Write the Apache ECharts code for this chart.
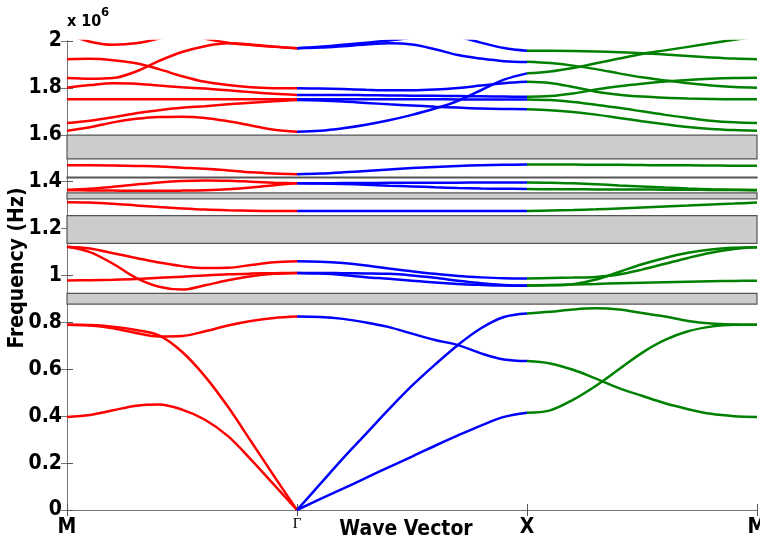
<!DOCTYPE html>
<html><head><meta charset="utf-8">
<script src="https://cdn.jsdelivr.net/npm/echarts@6/dist/echarts.min.js"></script>
<style>html,body{margin:0;padding:0;background:#fff}#c{width:760px;height:543px}</style>
</head><body><div id="c"></div>
<script>
// ---- axis labels ----
const xTickLabels = ['M', 'Γ', 'X', 'M'];
const kStep = [0, 0.1, 0.2, 0.3, 0.4, 0.5, 0.6, 0.7, 0.8, 0.9, 1.0];

// ---- band gaps (MHz) ----
const gapLow  = [0.878, 0.924];
const gapMid  = [1.137, 1.255];
const gapMid2 = [1.327, 1.352];
const gapThin = [1.416, 1.420];
const gapHigh = [1.497, 1.599];

// ---- M -> Γ (red) , values at kStep ----
const mgA  = [0.397, 0.405, 0.425, 0.445, 0.450, 0.428, 0.385, 0.315, 0.215, 0.108, 0];
const mgB  = [0.790, 0.789, 0.782, 0.768, 0.745, 0.675, 0.570, 0.440, 0.293, 0.145, 0];
const mgC  = [0.790, 0.787, 0.775, 0.755, 0.740, 0.742, 0.762, 0.787, 0.806, 0.819, 0.825];
const mgJ  = [1.123, 1.115, 1.095, 1.075, 1.055, 1.040, 1.032, 1.033, 1.045, 1.056, 1.061];
const mgK  = [1.123, 1.100, 1.050, 0.990, 0.952, 0.940, 0.958, 0.980, 0.997, 1.007, 1.011];
const mgL  = [0.979, 0.980, 0.982, 0.985, 0.990, 0.995, 1.000, 1.005, 1.008, 1.010, 1.011];
const mgV  = [1.312, 1.311, 1.306, 1.299, 1.292, 1.286, 1.281, 1.278, 1.276, 1.275, 1.275];
const mgS1 = [1.366, 1.370, 1.378, 1.388, 1.397, 1.403, 1.405, 1.404, 1.400, 1.396, 1.393];
const mgS2 = [1.364, 1.363, 1.362, 1.361, 1.361, 1.362, 1.364, 1.368, 1.375, 1.385, 1.393];
const mgR  = [1.470, 1.470, 1.469, 1.467, 1.465, 1.460, 1.455, 1.448, 1.440, 1.435, 1.432];
const mgF  = [1.617, 1.632, 1.653, 1.668, 1.676, 1.677, 1.672, 1.658, 1.640, 1.622, 1.613];
const mgE  = [1.650, 1.660, 1.675, 1.692, 1.705, 1.715, 1.722, 1.730, 1.737, 1.743, 1.748];
const mgD  = [1.752, 1.752, 1.752, 1.752, 1.752, 1.752, 1.752, 1.752, 1.752, 1.752, 1.752];
const mgCc = [1.801, 1.812, 1.820, 1.818, 1.810, 1.803, 1.797, 1.790, 1.782, 1.775, 1.770];
const mgAa = [1.922, 1.924, 1.918, 1.905, 1.880, 1.850, 1.826, 1.812, 1.803, 1.799, 1.798];
const mgW1 = [1.842, 1.839, 1.842, 1.870, 1.915, 1.953, 1.978, 1.990, 1.985, 1.976, 1.969];
const mgW0 = [2.030, 1.997, 1.984, 1.990, 2.010, 2.040, null, null, null, null, null];
const mgW2 = [null, null, null, null, null, 2.040, 2.010, 1.993, 1.983, 1.975, 1.969];

// ---- Γ -> X (blue) ----
const gxD  = [0.825, 0.823, 0.815, 0.800, 0.780, 0.752, 0.725, 0.703, 0.668, 0.642, 0.635];
const gxE  = [0, 0.110, 0.220, 0.325, 0.430, 0.530, 0.620, 0.704, 0.775, 0.823, 0.838];
const gxF  = [0, 0.046, 0.091, 0.137, 0.183, 0.228, 0.274, 0.318, 0.360, 0.397, 0.415];
const gxM  = [1.061, 1.059, 1.053, 1.043, 1.030, 1.018, 1.007, 0.998, 0.992, 0.988, 0.987];
const gxN  = [1.011, 1.011, 1.010, 1.009, 1.007, 1.000, 0.990, 0.978, 0.967, 0.960, 0.957];
const gxO  = [1.011, 1.008, 1.002, 0.993, 0.986, 0.978, 0.970, 0.964, 0.960, 0.957, 0.956];
const gxV  = [1.275, 1.275, 1.275, 1.275, 1.275, 1.275, 1.275, 1.275, 1.275, 1.275, 1.275];
const gxT1 = [1.393, 1.393, 1.394, 1.394, 1.395, 1.395, 1.396, 1.396, 1.397, 1.397, 1.397];
const gxT2 = [1.393, 1.392, 1.390, 1.387, 1.383, 1.380, 1.376, 1.373, 1.371, 1.370, 1.369];
const gxR  = [1.432, 1.435, 1.440, 1.446, 1.452, 1.458, 1.463, 1.467, 1.470, 1.472, 1.473];
const gxB1 = [1.969, 1.975, 1.984, 1.993, 2.002, 2.015, null, null, null, null, null];
const gxB2 = [1.969, 1.972, 1.978, 1.985, 1.990, 1.985, 1.965, 1.940, 1.925, 1.914, 1.910];
const gxB3 = [null, null, null, null, null, null, null, 2.020, 1.993, 1.970, 1.958];
const gxB4 = [1.613, 1.617, 1.628, 1.643, 1.662, 1.685, 1.712, 1.745, 1.790, 1.835, 1.862];
const gxB5 = [1.798, 1.797, 1.795, 1.792, 1.790, 1.790, 1.793, 1.800, 1.810, 1.820, 1.826];
const gxB6 = [1.770, 1.770, 1.770, 1.769, 1.768, 1.767, 1.766, 1.765, 1.764, 1.763, 1.762];
const gxB7 = [1.752, 1.752, 1.752, 1.752, 1.752, 1.752, 1.752, 1.751, 1.751, 1.751, 1.751];
const gxB8 = [1.748, 1.746, 1.742, 1.736, 1.730, 1.725, 1.720, 1.716, 1.712, 1.710, 1.709];

// ---- X -> M (green) ----
const xmG  = [0.838, 0.845, 0.855, 0.860, 0.855, 0.840, 0.825, 0.806, 0.795, 0.791, 0.790];
const xmH  = [0.635, 0.625, 0.598, 0.560, 0.520, 0.487, 0.455, 0.430, 0.410, 0.400, 0.397];
const xmI  = [0.415, 0.425, 0.470, 0.530, 0.600, 0.670, 0.725, 0.762, 0.782, 0.790, 0.790];
const xmP1 = [0.987, 0.989, 0.991, 0.994, 1.004, 1.025, 1.050, 1.075, 1.097, 1.113, 1.120];
const xmP2 = [0.957, 0.958, 0.963, 0.983, 1.015, 1.048, 1.075, 1.097, 1.111, 1.118, 1.120];
const xmQ  = [0.957, 0.960, 0.962, 0.964, 0.967, 0.969, 0.971, 0.973, 0.975, 0.977, 0.978];
const xmV  = [1.275, 1.277, 1.279, 1.282, 1.286, 1.290, 1.294, 1.298, 1.303, 1.307, 1.311];
const xmU1 = [1.397, 1.396, 1.393, 1.389, 1.384, 1.380, 1.375, 1.371, 1.368, 1.366, 1.365];
const xmU2 = [1.369, 1.368, 1.368, 1.367, 1.367, 1.367, 1.366, 1.366, 1.365, 1.365, 1.364];
const xmR  = [1.473, 1.473, 1.473, 1.472, 1.472, 1.471, 1.470, 1.470, 1.469, 1.468, 1.468];
const xmG1 = [1.958, 1.958, 1.957, 1.955, 1.952, 1.948, 1.942, 1.936, 1.930, 1.925, 1.922];
const xmG2 = [1.862, 1.870, 1.885, 1.905, 1.925, 1.945, 1.960, 1.975, 1.990, 2.005, 2.020];
const xmG3 = [1.912, 1.906, 1.895, 1.880, 1.862, 1.845, 1.832, 1.820, 1.810, 1.804, 1.801];
const xmG4 = [1.826, 1.821, 1.804, 1.784, 1.771, 1.763, 1.758, 1.755, 1.753, 1.752, 1.752];
const xmG5 = [1.762, 1.765, 1.776, 1.793, 1.807, 1.818, 1.827, 1.834, 1.839, 1.842, 1.843];
const xmG6 = [1.751, 1.748, 1.740, 1.728, 1.715, 1.700, 1.685, 1.672, 1.660, 1.653, 1.650];
const xmG7 = [1.709, 1.705, 1.697, 1.686, 1.672, 1.658, 1.645, 1.633, 1.625, 1.620, 1.617];

const redBands   = [mgA, mgB, mgC, mgJ, mgK, mgL, mgV, mgS1, mgS2, mgR, mgF, mgE, mgD, mgCc, mgAa, mgW1, mgW0, mgW2];
const blueBands  = [gxD, gxE, gxF, gxM, gxN, gxO, gxV, gxT1, gxT2, gxR, gxB1, gxB2, gxB3, gxB4, gxB5, gxB6, gxB7, gxB8];
const greenBands = [xmG, xmH, xmI, xmP1, xmP2, xmQ, xmV, xmU1, xmU2, xmR, xmG1, xmG2, xmG3, xmG4, xmG5, xmG6, xmG7];
const gaps = [gapLow, gapMid, gapMid2, gapThin, gapHigh];

const series = [];
function addBands(list, offset, color) {
  list.forEach(arr => {
    const data = [];
    arr.forEach((v, i) => { if (v !== null) data.push([offset + kStep[i], v]); });
    series.push({
      type: 'line', data, smooth: 0.35, showSymbol: false, clip: true,
      lineStyle: { color, width: 2.5 }, itemStyle: { color }, z: 3, silent: true
    });
  });
}
series.push({
  type: 'line', data: [], silent: true,
  markArea: {
    silent: true,
    itemStyle: { color: '#cccccc', borderColor: '#555555', borderWidth: 1.2 },
    data: gaps.map(g => [{ xAxis: 0, yAxis: g[0] }, { xAxis: 3, yAxis: g[1] }])
  }
});
addBands(redBands, 0, '#ff0000');
addBands(blueBands, 1, '#0000ff');
addBands(greenBands, 2, '#008000');

const lblFont = '"DejaVu Sans Condensed", "Liberation Sans Narrow", sans-serif';
const chart = echarts.init(document.getElementById('c'), null, { renderer: 'canvas' });
chart.setOption({
  animation: false,
  backgroundColor: '#ffffff',
  grid: { left: 67, right: 3, top: 41, bottom: 33, containLabel: false, outerBoundsMode: 'none' },
  xAxis: [{
    type: 'value', min: 0, max: 3, interval: 1, position: 'bottom',
    axisLine: { lineStyle: { color: '#555', width: 1 } },
    axisTick: { inside: true, length: 6, lineStyle: { color: '#555' } },
    splitLine: { show: false },
    axisLabel: {
      margin: 7, showMinLabel: true, showMaxLabel: true, hideOverlap: false,
      formatter: v => v === 1 ? '{g|' + xTickLabels[v] + '}' : '{b|' + xTickLabels[v] + '}',
      rich: {
        b: { fontFamily: lblFont, fontWeight: 'bold', fontSize: 21, color: '#000' },
        g: { fontFamily: '"Liberation Serif", serif', fontSize: 15, color: '#000', padding: [0, 0, 6, 0] }
      }
    }
  }, {
    type: 'value', min: 0, max: 3, interval: 1, position: 'top',
    axisLine: { lineStyle: { color: '#777', width: 1 } },
    axisTick: { inside: true, length: 6, lineStyle: { color: '#555' } },
    axisLabel: { show: false }, splitLine: { show: false }
  }],
  yAxis: [{
    type: 'value', min: 0, max: 2, interval: 0.2, position: 'left',
    axisLine: { show: true, lineStyle: { color: '#555', width: 1 } },
    axisTick: { show: true, inside: true, length: 6, lineStyle: { color: '#555' } },
    splitLine: { show: false },
    axisLabel: {
      margin: 5, color: '#000', fontFamily: lblFont, fontWeight: 'bold', fontSize: 21,
      formatter: v => String(parseFloat(v.toFixed(1)))
    }
  }, {
    type: 'value', min: 0, max: 2, interval: 0.2, position: 'right',
    axisLine: { show: true, lineStyle: { color: '#777', width: 1 } },
    axisTick: { show: true, inside: true, length: 6, lineStyle: { color: '#777' } },
    axisLabel: { show: false }, splitLine: { show: false }
  }],
  graphic: [
    { type: 'text', left: 67, top: 14, style: { text: 'x 10', font: 'bold 16px ' + lblFont, fill: '#000' } },
    { type: 'text', left: 101, top: 6, style: { text: '6', font: 'bold 13px ' + lblFont, fill: '#000' } },
    { type: 'text', x: 18, y: 268, rotation: Math.PI / 2,
      style: { text: 'Frequency (Hz)', font: 'bold 21px ' + lblFont, fill: '#000', align: 'center', verticalAlign: 'middle' } },
    { type: 'text', x: 406, y: 530,
      style: { text: 'Wave Vector', font: 'bold 21px ' + lblFont, fill: '#000', align: 'center', verticalAlign: 'middle' } }
  ],
  series
});
</script></body></html>
